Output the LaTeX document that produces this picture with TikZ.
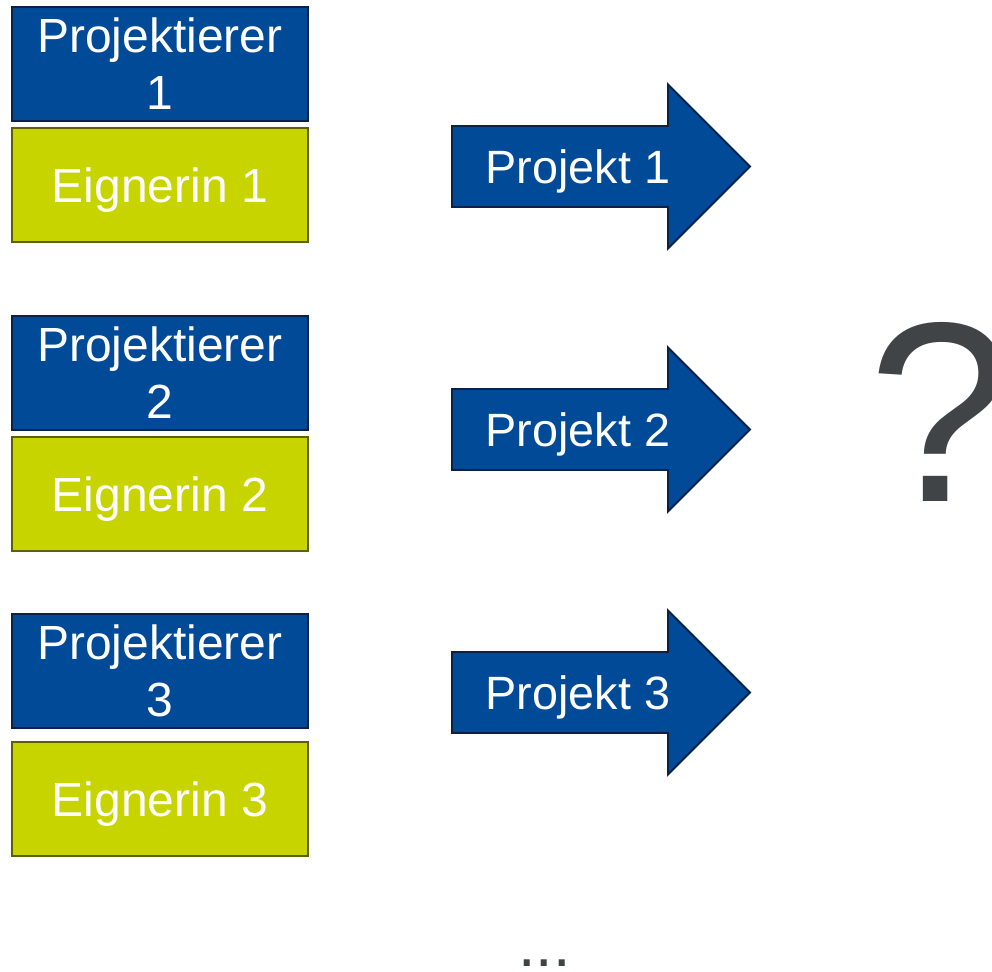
\documentclass[tikz,border=0pt]{standalone}
\usepackage{fontspec}
\setmainfont{Liberation Sans}
\usetikzlibrary{positioning}
\definecolor{pjblue}{RGB}{0,74,152}
\definecolor{pjnavy}{RGB}{12,32,72}
\definecolor{eggreen}{RGB}{200,212,0}
\definecolor{egolive}{RGB}{92,96,0}
\definecolor{qgray}{RGB}{64,68,70}

\begin{document}
\begin{tikzpicture}[
    x=0.02cm, y=-0.02cm,
    font=\fontsize{26.6}{32.3}\selectfont,
    box/.style={draw,line width=1.1pt,align=center,text=white,inner sep=0pt,minimum width=5.92cm,minimum height=2.28cm,font=\fontsize{27.3}{32.3}\selectfont},
    projbox/.style={box,fill=pjblue,draw=pjnavy,anchor=north west},
    eignerbox/.style={box,fill=eggreen,draw=egolive,text depth=0pt},
    projarrow/.style={fill=pjblue,draw=pjnavy,line width=1.1pt,line join=miter},
    projlabel/.style={text=white,inner sep=0pt,anchor=base}
  ]
    \useasboundingbox (0,0) rectangle (992,972);
    % Projektierer / Eignerin pairs and their projects
    \foreach \i/\yb/\gap/\ya in {1/6/0.1cm/166.5, 2/315/0.1cm/429.5, 3/613/0.24cm/692.5}{
      \node[projbox] (pj\i) at (11,\yb) {Projektierer\\\i};
      \node[eignerbox,below=\gap of pj\i] (eig\i) {Eignerin \i};
      \draw[projarrow] (452,\ya-40.5) -- (668,\ya-40.5) -- (668,\ya-82)
        -- (750,\ya) -- (668,\ya+82) -- (668,\ya+40.5) -- (452,\ya+40.5) -- cycle;
      \node[projlabel] (proj\i) at (578,\ya+17.5) {Projekt \i};
    }
    \node[text=qgray,inner sep=0pt,anchor=base west,font=\fontsize{146}{150}\selectfont] (frage) at (868,502) {?};
    \node[text=qgray,inner sep=0pt,anchor=base,font=\fontsize{35.7}{40}\selectfont] (weitere) at (544.5,967) {...};
  \end{tikzpicture}
\end{document}
